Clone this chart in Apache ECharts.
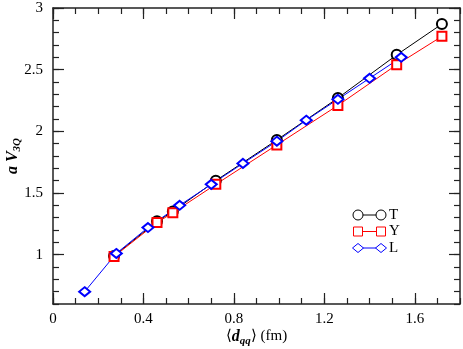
<!DOCTYPE html>
<html>
<head>
<meta charset="utf-8">
<script src="https://cdn.jsdelivr.net/npm/echarts@6/dist/echarts.min.js"></script>
<style>
html,body{margin:0;padding:0;background:#fff;}
#chart{width:463px;height:349px;}
</style>
</head>
<body>
<div id="chart"></div>
<script>
// data
const xT = [0.27, 0.46, 0.53, 0.72, 0.99, 1.26, 1.52, 1.72];
const yT = [0.99, 1.27, 1.35, 1.60, 1.93, 2.27, 2.62, 2.87];
const xY = [0.27, 0.46, 0.53, 0.72, 0.99, 1.26, 1.52, 1.72];
const yY = [0.985, 1.26, 1.34, 1.57, 1.89, 2.21, 2.54, 2.77];
const xL = [0.14, 0.28, 0.42, 0.56, 0.70, 0.84, 0.99, 1.12, 1.26, 1.40, 1.54];
const yL = [0.70, 1.01, 1.22, 1.40, 1.57, 1.74, 1.92, 2.09, 2.26, 2.43, 2.60];
const xMajor = [0, 0.4, 0.8, 1.2, 1.6];
const yMajor = [1, 1.5, 2, 2.5, 3];

const font = 'Liberation Serif';
const axisCol = '#222';
const pair = (xs, ys) => xs.map((x, i) => [x, ys[i]]);

// minor ticks axis (every 0.1), labels only on the major values
const minorX = (pos, labels) => ({
  type: 'value', position: pos, min: 0, max: 1.8, interval: 0.1,
  axisLine: {show: true, onZero: false, lineStyle: {color: axisCol, width: 1.5}},
  axisTick: {inside: true, length: 6, lineStyle: {color: axisCol, width: 1.2}},
  axisLabel: {
    show: labels, margin: 8, fontFamily: font, fontSize: 15, color: '#000',
    formatter: v => (Math.round(v * 10) % 4 === 0 ? String(+v.toFixed(1)) : '')
  },
  splitLine: {show: false}
});
const majorX = (pos) => ({
  type: 'value', position: pos, min: 0, max: 1.8,
  axisLine: {show: false, onZero: false},
  axisTick: {show: true, inside: true, length: 11, customValues: xMajor, lineStyle: {color: axisCol, width: 1.2}},
  axisLabel: {show: false},
  splitLine: {show: false}
});
const minorY = (pos, labels) => ({
  type: 'value', position: pos, min: 0.6, max: 3, interval: 0.1,
  axisLine: {show: true, onZero: false, lineStyle: {color: axisCol, width: 1.5}},
  axisTick: {inside: true, length: 6, lineStyle: {color: axisCol, width: 1.2}},
  axisLabel: {
    show: labels, margin: 10, fontFamily: font, fontSize: 15, color: '#000',
    formatter: v => (Math.round(v * 10) % 5 === 0 ? String(+v.toFixed(1)) : '')
  },
  splitLine: {show: false}
});
const majorY = (pos) => ({
  type: 'value', position: pos, min: 0.6, max: 3,
  axisLine: {show: false, onZero: false},
  axisTick: {show: true, inside: true, length: 11, customValues: yMajor, lineStyle: {color: axisCol, width: 1.2}},
  axisLabel: {show: false},
  splitLine: {show: false}
});

const xBottom = minorX('bottom', true);
xBottom.name = '{b|⟨}{bi|d}{sub|qq}{b|⟩} (fm)';
xBottom.nameLocation = 'middle';
xBottom.nameGap = 22;
xBottom.nameMoveOverlap = false;
xBottom.nameTextStyle = {
  fontFamily: font, fontSize: 15, color: '#000', verticalAlign: 'top',
  rich: {
    b: {fontFamily: font, fontSize: 15, color: '#000'},
    bi: {fontFamily: font, fontSize: 16, fontWeight: 'bold', fontStyle: 'italic', color: '#000'},
    sub: {fontFamily: font, fontSize: 11, fontWeight: 'bold', fontStyle: 'italic', color: '#000', padding: [10, 0, 0, 0]}
  }
};

const yLeft = minorY('left', true);
yLeft.name = '{bi|a V}{sub|3Q}';
yLeft.nameLocation = 'middle';
yLeft.nameGap = 30;
yLeft.nameRotate = 90;
yLeft.nameMoveOverlap = false;
yLeft.nameTextStyle = {
  fontFamily: font, color: '#000',
  rich: {
    bi: {fontFamily: font, fontSize: 16, fontWeight: 'bold', fontStyle: 'italic', color: '#000'},
    sub: {fontFamily: font, fontSize: 11, fontWeight: 'bold', fontStyle: 'italic', color: '#000', padding: [10, 0, 0, 0]}
  }
};

const lineSeries = (name, xs, ys, color, symbol, size) => ({
  name, type: 'line', xAxisIndex: 0, yAxisIndex: 0,
  data: pair(xs, ys),
  symbol, symbolSize: size, showAllSymbol: true,
  lineStyle: {color, width: 1},
  itemStyle: {color, borderColor: color, borderWidth: 1},
  emphasis: {disabled: true},
  animation: false
});

// legend drawn by hand: line with the symbol at both ends
const legendRows = [
  {name: 'T', color: '#000', kind: 'circle'},
  {name: 'Y', color: '#ff0000', kind: 'rect'},
  {name: 'L', color: '#0000ff', kind: 'diamond'}
];
const lgX0 = 358, lgX1 = 381, lgY0 = 215, lgDy = 16.5;
const legendGraphics = [];
legendRows.forEach((r, i) => {
  const y = lgY0 + i * lgDy;
  legendGraphics.push({type: 'line', shape: {x1: lgX0, y1: y, x2: lgX1, y2: y}, style: {stroke: r.color, lineWidth: 1}});
  [lgX0, lgX1].forEach(x => {
    const st = {fill: '#fff', stroke: r.color, lineWidth: 1};
    if (r.kind === 'circle') legendGraphics.push({type: 'circle', shape: {cx: x, cy: y, r: 5}, style: st});
    else if (r.kind === 'rect') legendGraphics.push({type: 'rect', shape: {x: x - 4.5, y: y - 4.5, width: 9, height: 9}, style: st});
    else legendGraphics.push({type: 'polygon', shape: {points: [[x - 5.5, y], [x, y - 4.5], [x + 5.5, y], [x, y + 4.5]]}, style: st});
  });
  legendGraphics.push({type: 'text', x: 389, y: y, style: {text: r.name, font: '15px "Liberation Serif"', fill: '#000', verticalAlign: 'middle'}});
});

const option = {
  backgroundColor: '#fff',
  animation: false,
  grid: {left: 53, right: 3, top: 8, bottom: 45, containLabel: false, outerBoundsMode: 'none'},
  xAxis: [xBottom, minorX('top', false), majorX('bottom'), majorX('top')],
  yAxis: [yLeft, minorY('right', false), majorY('left'), majorY('right')],
  series: [
    lineSeries('T', xT, yT, '#000', 'emptyCircle', 10),
    lineSeries('Y', xY, yY, '#ff0000', 'emptyRect', 9),
    lineSeries('L', xL, yL, '#0000ff', 'emptyDiamond', [11, 9])
  ],
  graphic: legendGraphics
};

const chartDom = document.getElementById('chart');
const myChart = echarts.init(chartDom, null, {renderer: 'canvas'});
myChart.setOption(option);
</script>
</body>
</html>
